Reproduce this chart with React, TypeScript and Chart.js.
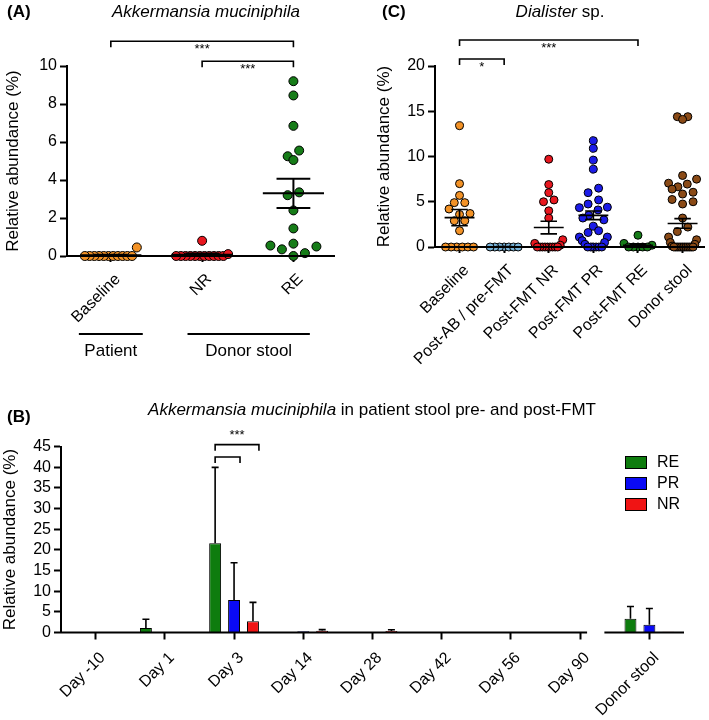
import React, { useEffect, useRef } from 'react';
import { Chart, registerables } from 'chart.js';

Chart.register(...registerables);

const FONT = "'Liberation Sans', Arial, Helvetica, sans-serif";
Chart.defaults.font.family = FONT;
Chart.defaults.color = '#000';

// ---------------- Panel A : Akkermansia muciniphila (donor stool) ----------------
const aCategories = ['Baseline', 'NR', 'RE'];
const aBaseline = [0, 0, 0, 0, 0, 0, 0, 0, 0, 0, 0, 0.45];
const aNR = [0, 0, 0, 0, 0, 0, 0, 0, 0, 0, 0, 0.1, 0.8];
const aRE = [9.2, 8.45, 6.85, 5.55, 5.25, 5.05, 3.35, 3.2, 2.4, 1.45, 0.65, 0.55, 0.5, 0.35, 0.15, 0];
const aMeans = [0.04, 0.07, 3.3];
const aSEMs = [0.03, 0.06, 0.77];
const aColors = ['#F39226', '#E8171F', '#167C18'];
const aYMax = 10;
const aYStep = 2;
const aBrackets = [
  { from: 1, to: 3, level: 11.3, label: '***' },
  { from: 2, to: 3, level: 10.25, label: '***' },
];
const aGroups = [
  { label: 'Patient', from: 0.65, to: 1.35 },
  { label: 'Donor stool', from: 1.84, to: 3.18 },
];

// ---------------- Panel C : Dialister sp. ----------------
const cCategories = ['Baseline', 'Post-AB / pre-FMT', 'Post-FMT NR', 'Post-FMT PR', 'Post-FMT RE', 'Donor stool'];
const cBaseline = [13.4, 7.0, 5.7, 4.9, 4.9, 4.2, 3.7, 3.6, 2.9, 2.9, 1.8, 0, 0, 0, 0, 0, 0];
const cPostAB = [0, 0, 0, 0, 0, 0, 0];
const cPostNR = [9.7, 6.9, 6.0, 5.2, 5.0, 4.0, 3.2, 0.8, 0.4, 0.2, 0, 0, 0, 0, 0, 0, 0, 0, 0];
const cPostPR = [11.75, 10.9, 9.6, 8.6, 6.5, 6.0, 5.2, 4.75, 4.4, 4.35, 4.1, 3.5, 3.2, 3.0, 2.3, 1.8, 1.6, 1.1, 1.1, 0.7, 0.5, 0.3, 0, 0, 0, 0, 0, 0];
const cPostRE = [1.3, 0.4, 0.2, 0, 0, 0, 0, 0];
const cDonor = [14.4, 14.4, 14.1, 7.9, 7.5, 7.05, 6.95, 6.65, 6.4, 6.05, 5.85, 5.25, 5.0, 4.75, 3.2, 2.2, 1.7, 1.1, 0.8, 0.5, 0.3, 0.1, 0, 0, 0, 0, 0, 0, 0, 0, 0, 0, 0, 0];
const cMeans = [3.25, 0.02, 2.15, 3.5, 0.2, 2.6];
const cSEMs = [0.9, 0.02, 0.7, 0.47, 0.16, 0.53];
const cColors = ['#F39226', '#78B4DA', '#E8171F', '#1C1CE8', '#167C18', '#8A4A16'];
const cYMax = 20;
const cYStep = 5;
const cBrackets = [
  { from: 1, to: 5, level: 22.87, label: '***' },
  { from: 1, to: 2, level: 20.77, label: '*' },
];

// ---------------- Panel B : A. muciniphila in patient stool ----------------
const bCategories = ['Day -10', 'Day 1', 'Day 3', 'Day 14', 'Day 28', 'Day 42', 'Day 56', 'Day 90', 'Donor stool'];
const bSeries = ['RE', 'PR', 'NR'];
const bRE = [0, 1.1, 21.6, 0, 0, 0, 0.1, 0, 3.3];
const bPR = [0, 0, 7.9, 0.3, 0, 0, 0, 0, 1.9];
const bNR = [0, 0, 2.7, 0.4, 0.35, 0, 0, 0, 0.2];
const bREErr = [0, 2.1, 18.4, 0, 0, 0, 0, 0, 3.0];
const bPRErr = [0, 0, 9.0, 0, 0, 0, 0, 0, 3.9];
const bNRErr = [0, 0, 4.6, 0.3, 0.3, 0, 0, 0, 0];
const bColors = ['#0E7C0E', '#0A0AF5', '#F01414'];
const bYMax = 45;
const bYStep = 5;
const bBrackets = [
  { cat: 2, from: 0, to: 2, level: 45.5, label: '***' },
  { cat: 2, from: 0, to: 1, level: 42.5, label: '' },
];

// ---------------- helpers ----------------
function swarm(chart: any, groups: number[][], binPx: number, stepPx: number, maxHalfPx: number) {
  const xs = chart.scales.x;
  const ys = chart.scales.y;
  const ux = xs.getPixelForValue(1) - xs.getPixelForValue(0);
  const y0 = ys.getPixelForValue(0);
  groups.forEach((vals, gi) => {
    const bins = new Map<number, number[]>();
    vals.forEach((v, i) => {
      const b = Math.floor((y0 - ys.getPixelForValue(v)) / binPx + 1e-6);
      if (!bins.has(b)) bins.set(b, []);
      bins.get(b)!.push(i);
    });
    const data = chart.data.datasets[gi].data;
    bins.forEach((idx) => {
      idx.sort((p, q) => vals[p] - vals[q]);
      const n = idx.length;
      const s = n > 1 ? Math.min(stepPx, (2 * maxHalfPx) / (n - 1)) : 0;
      idx.forEach((i, k) => {
        let pos: number;
        if (n % 2 === 1) {
          const m = Math.ceil(k / 2);
          pos = k === 0 ? 0 : k % 2 === 1 ? m : -m;
        } else {
          const m = Math.floor(k / 2) + 0.5;
          pos = k % 2 === 0 ? -m : m;
        }
        data[i] = { x: gi + 1 + (pos * s) / ux, y: vals[i] };
      });
    });
  });
  chart.update('none');
}

function drawBracket(ctx: CanvasRenderingContext2D, x1: number, x2: number, y: number, tick: number, label: string, labelDy: number, lw: number) {
  ctx.save();
  ctx.strokeStyle = '#000';
  ctx.lineWidth = lw;
  ctx.beginPath();
  ctx.moveTo(x1, y + tick);
  ctx.lineTo(x1, y);
  ctx.lineTo(x2, y);
  ctx.lineTo(x2, y + tick);
  ctx.stroke();
  if (label) {
    ctx.fillStyle = '#000';
    ctx.font = `13px ${FONT}`;
    ctx.textAlign = 'center';
    ctx.textBaseline = 'alphabetic';
    ctx.fillText(label, (x1 + x2) / 2, y + labelDy);
  }
  ctx.restore();
}

function drawTitle(ctx: CanvasRenderingContext2D, tag: string, tagX: number, tagY: number, parts: { text: string; italic: boolean }[], cx: number, cy: number) {
  ctx.save();
  ctx.fillStyle = '#000';
  ctx.textBaseline = 'middle';
  ctx.textAlign = 'left';
  ctx.font = `bold 17px ${FONT}`;
  ctx.fillText(tag, tagX, tagY);
  const fonts = parts.map((p) => `${p.italic ? 'italic ' : ''}17px ${FONT}`);
  let total = 0;
  const widths = parts.map((p, i) => {
    ctx.font = fonts[i];
    const w = ctx.measureText(p.text).width;
    total += w;
    return w;
  });
  let x = cx - total / 2;
  parts.forEach((p, i) => {
    ctx.font = fonts[i];
    ctx.fillText(p.text, x, cy);
    x += widths[i];
  });
  ctx.restore();
}

function scatterConfig(opts: {
  categories: string[];
  groups: number[][];
  colors: string[];
  means: number[];
  sems: number[];
  yMax: number;
  yStep: number;
  xMin: number;
  xMax: number;
  radius: number;
  padLeft: number;
  yWidth: number;
  xHeight: number;
  meanLW: number;
  extraDraw: (chart: any) => void;
}) {
  const meanPlugin = {
    id: 'meanSem',
    afterDatasetsDraw(chart: any) {
      const { ctx } = chart;
      const xs = chart.scales.x;
      const ys = chart.scales.y;
      ctx.save();
      ctx.strokeStyle = '#000';
      ctx.lineWidth = opts.meanLW;
      opts.means.forEach((m, i) => {
        const c = i + 1;
        const s = opts.sems[i];
        const ym = ys.getPixelForValue(m);
        const yh = ys.getPixelForValue(m + s);
        const yl = ys.getPixelForValue(m - s);
        ctx.beginPath();
        ctx.moveTo(xs.getPixelForValue(c - 0.335), ym);
        ctx.lineTo(xs.getPixelForValue(c + 0.335), ym);
        ctx.moveTo(xs.getPixelForValue(c - 0.185), yh);
        ctx.lineTo(xs.getPixelForValue(c + 0.185), yh);
        ctx.moveTo(xs.getPixelForValue(c - 0.185), yl);
        ctx.lineTo(xs.getPixelForValue(c + 0.185), yl);
        ctx.moveTo(xs.getPixelForValue(c), yh);
        ctx.lineTo(xs.getPixelForValue(c), yl);
        ctx.stroke();
      });
      ctx.restore();
    },
    afterDraw(chart: any) {
      opts.extraDraw(chart);
    },
  };
  return {
    type: 'scatter' as const,
    data: {
      datasets: opts.groups.map((vals, gi) => ({
        label: opts.categories[gi],
        data: vals.map((v) => ({ x: gi + 1, y: v })),
        pointRadius: opts.radius,
        pointBackgroundColor: opts.colors[gi],
        pointBorderColor: '#000',
        pointBorderWidth: 1,
        clip: false as any,
      })),
    },
    options: {
      animation: false as const,
      responsive: false,
      events: [] as any,
      layout: { padding: { left: opts.padLeft, top: 66, right: 0, bottom: 0 } },
      plugins: { legend: { display: false }, tooltip: { enabled: false } },
      scales: {
        x: {
          type: 'linear' as const,
          min: opts.xMin,
          max: opts.xMax,
          afterBuildTicks: (axis: any) => {
            axis.ticks = opts.categories.map((_, i) => ({ value: i + 1 }));
          },
          ticks: {
            autoSkip: false,
            minRotation: 45,
            maxRotation: 45,
            font: { size: 16 },
            color: '#000',
            padding: 8,
            labelOffset: 7,
            callback: (v: any) => opts.categories[Math.round(Number(v)) - 1] ?? '',
          },
          grid: { display: true, drawOnChartArea: false, drawTicks: true, tickLength: 6, tickWidth: 2, tickColor: '#000' },
          border: { display: true, color: '#000', width: 2, z: 1 },
          afterFit: (s: any) => {
            s.height = opts.xHeight;
          },
        },
        y: {
          min: 0,
          max: opts.yMax,
          ticks: { stepSize: opts.yStep, autoSkip: false, font: { size: 16 }, color: '#000', padding: 3 },
          grid: { display: true, drawOnChartArea: false, drawTicks: true, tickLength: 7, tickWidth: 2, tickColor: '#000' },
          border: { display: true, color: '#000', width: 2 },
          title: { display: true, text: 'Relative abundance (%)', font: { size: 17 }, color: '#000', padding: 3 },
          afterFit: (s: any) => {
            s.width = opts.yWidth;
          },
        },
      },
    },
    plugins: [meanPlugin],
  };
}

function PanelA() {
  const ref = useRef<HTMLCanvasElement>(null);
  useEffect(() => {
    const groups = [aBaseline, aNR, aRE];
    const cfg: any = scatterConfig({
      categories: aCategories,
      groups,
      colors: aColors,
      means: aMeans,
      sems: aSEMs,
      yMax: aYMax,
      yStep: aYStep,
      xMin: 0.52,
      xMax: 3.45,
      radius: 4.5,
      padLeft: 0,
      yWidth: 67,
      xHeight: 114,
      meanLW: 2,
      extraDraw: (chart: any) => {
        const { ctx } = chart;
        const xs = chart.scales.x;
        const ys = chart.scales.y;
        aBrackets.forEach((b) =>
          drawBracket(ctx, xs.getPixelForValue(b.from), xs.getPixelForValue(b.to), ys.getPixelForValue(b.level), 6, b.label, 12, 1.6)
        );
        ctx.save();
        ctx.strokeStyle = '#000';
        ctx.fillStyle = '#000';
        ctx.lineWidth = 2;
        ctx.font = `17px ${FONT}`;
        ctx.textAlign = 'center';
        ctx.textBaseline = 'middle';
        aGroups.forEach((g) => {
          const x1 = xs.getPixelForValue(g.from);
          const x2 = xs.getPixelForValue(g.to);
          ctx.beginPath();
          ctx.moveTo(x1, 334);
          ctx.lineTo(x2, 334);
          ctx.stroke();
          ctx.fillText(g.label, (x1 + x2) / 2, 351);
        });
        ctx.restore();
        drawTitle(ctx, '(A)', 7, 12, [{ text: 'Akkermansia muciniphila', italic: true }], 206, 12);
      },
    });
    const chart = new Chart(ref.current!, cfg);
    swarm(chart, groups, 12, 11.5, 26);
    return () => chart.destroy();
  }, []);
  return <canvas ref={ref} width={340} height={370} style={{ position: 'absolute', left: 0, top: 0 }} />;
}

function PanelC() {
  const ref = useRef<HTMLCanvasElement>(null);
  useEffect(() => {
    const groups = [cBaseline, cPostAB, cPostNR, cPostPR, cPostRE, cDonor];
    const cfg: any = scatterConfig({
      categories: cCategories,
      groups,
      colors: cColors,
      means: cMeans,
      sems: cSEMs,
      yMax: cYMax,
      yStep: cYStep,
      xMin: 0.45,
      xMax: 6.48,
      radius: 4,
      padLeft: 31,
      yWidth: 64,
      xHeight: 123,
      meanLW: 1.6,
      extraDraw: (chart: any) => {
        const { ctx } = chart;
        const xs = chart.scales.x;
        const ys = chart.scales.y;
        cBrackets.forEach((b) =>
          drawBracket(ctx, xs.getPixelForValue(b.from), xs.getPixelForValue(b.to), ys.getPixelForValue(b.level), 6, b.label, 12, 1.6)
        );
        drawTitle(
          ctx,
          '(C)',
          42,
          12,
          [
            { text: 'Dialister', italic: true },
            { text: ' sp.', italic: false },
          ],
          220,
          12
        );
      },
    });
    const chart = new Chart(ref.current!, cfg);
    swarm(chart, groups, 10, 10.5, 14);
    return () => chart.destroy();
  }, []);
  return <canvas ref={ref} width={369} height={370} style={{ position: 'absolute', left: 340, top: 0 }} />;
}

function PanelB() {
  const ref = useRef<HTMLCanvasElement>(null);
  useEffect(() => {
    const values = [bRE, bPR, bNR];
    const errs = [bREErr, bPRErr, bNRErr];
    const plugin = {
      id: 'bExtras',
      afterDatasetsDraw(chart: any) {
        const { ctx, chartArea } = chart;
        const xs = chart.scales.x;
        const ys = chart.scales.y;
        ctx.save();
        ctx.strokeStyle = '#000';
        ctx.lineWidth = 1.6;
        values.forEach((vals, di) => {
          const meta = chart.getDatasetMeta(di);
          vals.forEach((v, i) => {
            const e = errs[di][i];
            if (!e) return;
            const bar = meta.data[i];
            const yTop = ys.getPixelForValue(v + e);
            const yBar = ys.getPixelForValue(v);
            ctx.beginPath();
            ctx.moveTo(bar.x, yBar);
            ctx.lineTo(bar.x, yTop);
            ctx.moveTo(bar.x - 3.5, yTop);
            ctx.lineTo(bar.x + 3.5, yTop);
            ctx.stroke();
          });
        });
        // broken x axis
        const n = bCategories.length;
        const tA = xs.getPixelForTick(n - 2);
        const tB = xs.getPixelForTick(n - 1);
        const sp = tB - tA;
        const y = ys.getPixelForValue(0);
        ctx.lineWidth = 2;
        ctx.beginPath();
        ctx.moveTo(chartArea.left - 1, y);
        ctx.lineTo(tA + 0.1 * sp, y);
        ctx.moveTo(tB - 0.65 * sp, y);
        ctx.lineTo(chartArea.right, y);
        ctx.stroke();
        ctx.restore();
      },
      afterDraw(chart: any) {
        const { ctx } = chart;
        const ys = chart.scales.y;
        bBrackets.forEach((b) => {
          const m1 = chart.getDatasetMeta(b.from).data[b.cat];
          const m2 = chart.getDatasetMeta(b.to).data[b.cat];
          drawBracket(ctx, m1.x, m2.x + m2.width / 2, ys.getPixelForValue(b.level), 6, b.label, -6, 1.6);
        });
        // legend
        ctx.save();
        ctx.font = `16px ${FONT}`;
        ctx.textBaseline = 'middle';
        ctx.textAlign = 'left';
        bSeries.forEach((s, i) => {
          const y = 76 + i * 21;
          ctx.fillStyle = bColors[i];
          ctx.fillRect(625, y, 22, 13);
          ctx.strokeStyle = '#000';
          ctx.lineWidth = 1;
          ctx.strokeRect(625.5, y + 0.5, 21, 12);
          ctx.fillStyle = '#000';
          ctx.fillText(s, 657, y + 7);
        });
        ctx.restore();
        drawTitle(
          ctx,
          '(B)',
          7,
          37,
          [
            { text: 'Akkermansia muciniphila', italic: true },
            { text: ' in patient stool pre- and post-FMT', italic: false },
          ],
          372,
          30
        );
      },
    };
    const cfg: any = {
      type: 'bar',
      data: {
        labels: bCategories,
        datasets: bSeries.map((s, i) => ({
          label: s,
          data: values[i],
          backgroundColor: bColors[i],
          borderColor: '#000',
          borderWidth: 1,
          categoryPercentage: 0.82,
          barPercentage: 0.63,
        })),
      },
      options: {
        animation: false,
        responsive: false,
        events: [],
        layout: { padding: { left: 0, top: 66.7, right: 25, bottom: 0 } },
        plugins: { legend: { display: false }, tooltip: { enabled: false } },
        scales: {
          x: {
            grid: { display: true, drawOnChartArea: false, offset: false, drawTicks: true, tickLength: 7, tickWidth: 2, tickColor: '#000' },
            border: { display: false },
            ticks: { autoSkip: false, minRotation: 45, maxRotation: 45, font: { size: 16 }, color: '#000', padding: 9, labelOffset: 7 },
            afterFit: (s: any) => {
              s.height = 87.5;
            },
          },
          y: {
            min: 0,
            max: bYMax,
            ticks: { stepSize: bYStep, autoSkip: false, font: { size: 16 }, color: '#000', padding: 3 },
            grid: { display: true, drawOnChartArea: false, drawTicks: true, tickLength: 7, tickWidth: 2, tickColor: '#000' },
            border: { display: true, color: '#000', width: 2 },
            title: { display: true, text: 'Relative abundance (%)', font: { size: 17 }, color: '#000', padding: 0 },
            afterFit: (s: any) => {
              s.width = 61;
            },
          },
        },
      },
      plugins: [plugin],
    };
    const chart = new Chart(ref.current!, cfg);
    return () => chart.destroy();
  }, []);
  return <canvas ref={ref} width={709} height={340} style={{ position: 'absolute', left: 0, top: 380 }} />;
}

export default function App() {
  return (
    <div style={{ position: 'absolute', left: 0, top: 0, width: 709, height: 720, background: '#fff', overflow: 'hidden' }}>
      <PanelA />
      <PanelC />
      <PanelB />
    </div>
  );
}
